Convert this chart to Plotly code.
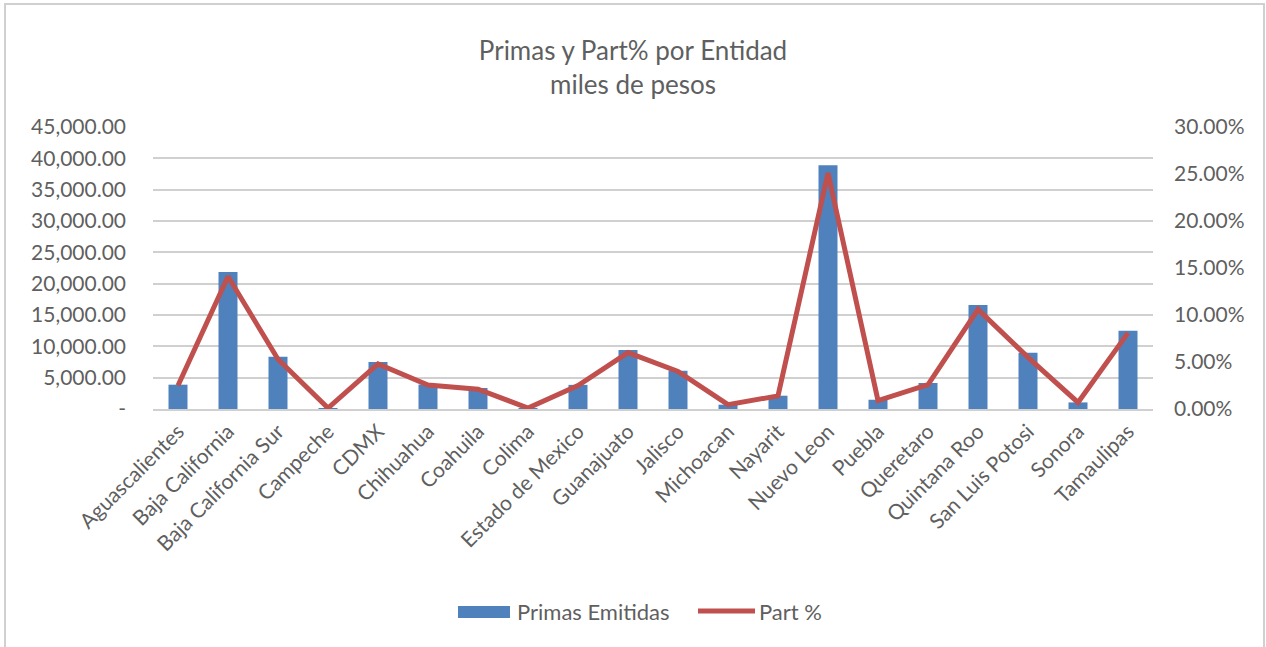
import plotly.graph_objects as go

categories = ["Aguascalientes", "Baja California", "Baja California Sur", "Campeche", "CDMX",
              "Chihuahua", "Coahuila", "Colima", "Estado de Mexico", "Guanajuato", "Jalisco",
              "Michoacan", "Nayarit", "Nuevo Leon", "Puebla", "Queretaro", "Quintana Roo",
              "San Luis Potosi", "Sonora", "Tamaulipas"]
primas = [3880, 21860, 8350, 100, 7500, 3900, 3350, 100, 3850, 9420, 6100,
          690, 2120, 38880, 1480, 4150, 16600, 8990, 1050, 12500]
part = [0.025, 0.141, 0.053, 0.001, 0.048, 0.0255, 0.021, 0.001, 0.025, 0.060, 0.040,
        0.0046, 0.014, 0.251, 0.009, 0.026, 0.106, 0.055, 0.007, 0.081]

left_ticks = [0, 5000, 10000, 15000, 20000, 25000, 30000, 35000, 40000, 45000]
left_labels = ["-", "5,000.00", "10,000.00", "15,000.00", "20,000.00", "25,000.00",
               "30,000.00", "35,000.00", "40,000.00", "45,000.00"]
right_ticks = [0, 0.05, 0.10, 0.15, 0.20, 0.25, 0.30]
series_names = ["Primas Emitidas", "Part %"]

FONT = "Lato, 'Open Sans', sans-serif"
GREY = "#5F5F5F"
BLUE = "#4F81BD"
RED = "#C0504D"
GRID = "#D0D0D0"

fig = go.Figure()
fig.add_trace(go.Bar(x=categories, y=primas, name=series_names[0],
                     marker=dict(color=BLUE, line=dict(width=0))))
fig.add_trace(go.Scatter(x=categories, y=part, name=series_names[1], yaxis="y2",
                         mode="lines", line=dict(color=RED, width=5)))

W, H = 1266, 647
L, R, T, B = 153, 1153, 127, 409
pw, ph = R - L, B - T


def px_x(x):
    return (x - L) / pw


def px_y(y):
    return (B - y) / ph


shapes = [
    # chart border
    dict(type="rect", xref="paper", yref="paper",
         x0=px_x(5), x1=px_x(1264), y0=px_y(700), y1=px_y(4),
         line=dict(color="#D0D0D0", width=2), fillcolor="rgba(0,0,0,0)", layer="below"),
    # legend symbols
    dict(type="rect", xref="paper", yref="paper",
         x0=px_x(458), x1=px_x(510), y0=px_y(618), y1=px_y(606),
         line=dict(width=0), fillcolor=BLUE),
    dict(type="line", xref="paper", yref="paper",
         x0=px_x(698), x1=px_x(755), y0=px_y(611), y1=px_y(611),
         line=dict(color=RED, width=5)),
]
annotations = [
    dict(text=series_names[0], xref="paper", yref="paper", x=px_x(515), y=px_y(611),
         xanchor="left", yanchor="middle", showarrow=False, font=dict(size=22, color=GREY)),
    dict(text=series_names[1], xref="paper", yref="paper", x=px_x(757), y=px_y(611),
         xanchor="left", yanchor="middle", showarrow=False, font=dict(size=22, color=GREY)),
]

fig.update_layout(
    width=W, height=H,
    margin=dict(l=L, r=W - R, t=T, b=H - B),
    paper_bgcolor="white", plot_bgcolor="white",
    font=dict(family=FONT, size=21, color=GREY),
    title=dict(text="Primas y Part% por Entidad<br>miles de pesos", x=0.5, xref="container",
               y=1 - 60 / H, yref="container", yanchor="middle", xanchor="center",
               font=dict(size=26, color=GREY, family=FONT)),
    bargap=0.62,
    showlegend=False,
    xaxis=dict(tickangle=-45, showgrid=False, showline=True, linecolor=GRID, linewidth=2,
               ticks="", tickfont=dict(size=21, color=GREY)),
    yaxis=dict(range=[0, 45000], tickvals=left_ticks, ticktext=left_labels, showgrid=True,
               gridcolor=GRID, gridwidth=2, zeroline=False, showline=False, ticks="",
               ticklabelstandoff=26, tickfont=dict(size=21)),
    yaxis2=dict(range=[0, 0.30], tickvals=right_ticks, tickformat=".2%", overlaying="y",
                side="right", showgrid=False, zeroline=False, showline=False, ticks="",
                ticklabelstandoff=20, tickfont=dict(size=21)),
    shapes=shapes,
    annotations=annotations,
)

fig.write_html("out.html", config={"displayModeBar": False},
               post_script="document.body.style.margin='0px';")
